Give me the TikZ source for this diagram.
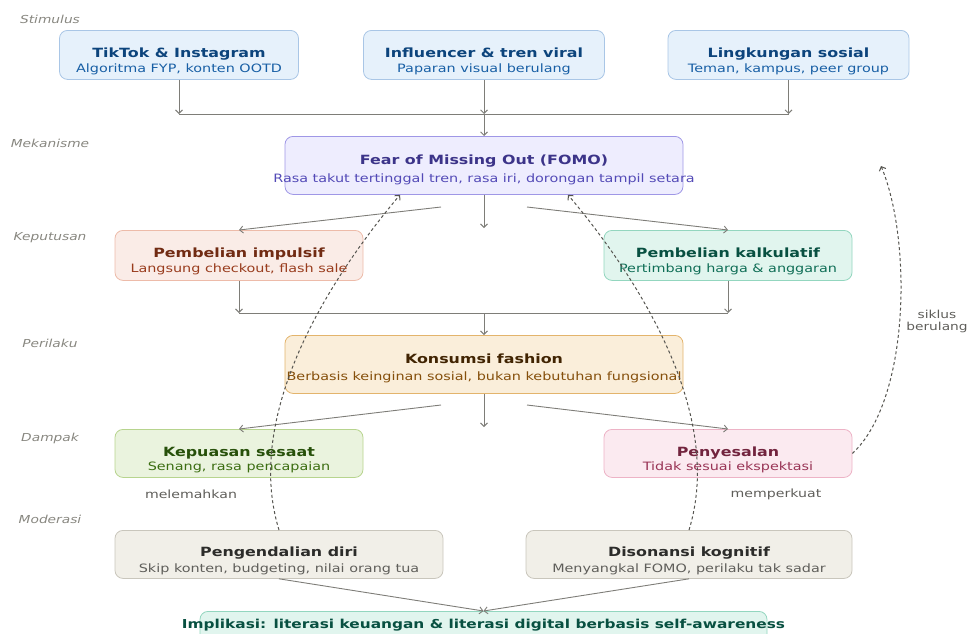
\documentclass[tikz,border=0pt]{standalone}
\usepackage{fontspec}
\setmainfont{DejaVu Sans}[FakeStretch=1.25]
\usetikzlibrary{arrows.meta,calc}

\definecolor{bluebg}{HTML}{E6F1FB}\definecolor{blueln}{HTML}{A9C6E6}
\definecolor{bluetx}{HTML}{0C447C}\definecolor{bluent}{HTML}{185FA5}
\definecolor{purpbg}{HTML}{EEEDFE}\definecolor{purpln}{HTML}{9F97E6}
\definecolor{purptx}{HTML}{3C3489}\definecolor{purpnt}{HTML}{534AB7}
\definecolor{coralbg}{HTML}{FAECE7}\definecolor{coralln}{HTML}{EDBBA9}
\definecolor{coraltx}{HTML}{712B13}\definecolor{coralnt}{HTML}{993C1D}
\definecolor{tealbg}{HTML}{E1F5EE}\definecolor{tealln}{HTML}{93D6BF}
\definecolor{tealtx}{HTML}{085041}\definecolor{tealnt}{HTML}{0F6E56}
\definecolor{ambbg}{HTML}{FAEEDA}\definecolor{ambln}{HTML}{E3B46C}
\definecolor{ambtx}{HTML}{412402}\definecolor{ambnt}{HTML}{854F0B}
\definecolor{grnbg}{HTML}{EAF3DE}\definecolor{grnln}{HTML}{B7D48E}
\definecolor{grntx}{HTML}{27500A}\definecolor{grnnt}{HTML}{3B6D11}
\definecolor{pinkbg}{HTML}{FBEAF0}\definecolor{pinkln}{HTML}{EDB3C6}
\definecolor{pinktx}{HTML}{72243E}\definecolor{pinknt}{HTML}{993556}
\definecolor{graybg}{HTML}{F1EFE8}\definecolor{grayln}{HTML}{C9C6BC}
\definecolor{graytx}{HTML}{2C2C2A}\definecolor{graynt}{HTML}{5F5E5A}
\definecolor{stagegray}{HTML}{888780}
\definecolor{linegray}{HTML}{7E7D78}
\definecolor{dashgray}{HTML}{55544F}

\tikzset{
  box/.style={draw, rounded corners=8pt, line width=0.8pt, anchor=north},
  ttl/.style={anchor=base, inner sep=0pt, font=\fontsize{12.7}{15}\selectfont\bfseries},
  boxnote/.style={anchor=base, inner sep=0pt, font=\fontsize{11.5}{14}\selectfont},
  stage/.style={anchor=base, inner sep=0pt, text=stagegray, font=\fontsize{11}{13}\selectfont\itshape},
  edgetag/.style={inner sep=0pt, text=graynt, font=\fontsize{11.3}{12}\selectfont},
  flow/.style={draw=linegray, line width=0.9pt, -{Straight Barb[length=3.5pt,width=7pt]}},
  busline/.style={draw=linegray, line width=0.9pt},
  cycleline/.style={draw=dashgray, line width=1pt, dash pattern=on 3pt off 2.5pt, -{Straight Barb[length=3.5pt,width=7pt]}},
}

\begin{document}
\begin{tikzpicture}[x=1pt,y=-1pt]
    \useasboundingbox (0,0) rectangle (968,633);
    % stages
    \node[stage] (st-stim) at (50,23) {Stimulus};
    \node[stage] (st-mek) at (50,147) {Mekanisme};
    \node[stage] (st-kep) at (50,240) {Keputusan};
    \node[stage] (st-per) at (50,347) {Perilaku};
    \node[stage] (st-dam) at (50,441) {Dampak};
    \node[stage] (st-mod) at (50,523) {Moderasi};

    % stimulus
    \node[box, fill=bluebg, draw=blueln, minimum width=239, minimum height=49] (tiktok) at (179,30) {};
    \node[ttl, text=bluetx] (tiktok-t) at ($(tiktok.north)+(0,27.5)$) {TikTok \& Instagram};
    \node[boxnote, text=bluent] (tiktok-n) at ($(tiktok.north)+(0,42.5)$) {Algoritma FYP, konten OOTD};
    \node[box, fill=bluebg, draw=blueln, minimum width=241, minimum height=49] (influencer) at (484,30) {};
    \node[ttl, text=bluetx] (influencer-t) at ($(influencer.north)+(0,27.5)$) {Influencer \& tren viral};
    \node[boxnote, text=bluent] (influencer-n) at ($(influencer.north)+(0,42.5)$) {Paparan visual berulang};
    \node[box, fill=bluebg, draw=blueln, minimum width=241, minimum height=49] (lingkungan) at (788.5,30) {};
    \node[ttl, text=bluetx] (lingkungan-t) at ($(lingkungan.north)+(0,27.5)$) {Lingkungan sosial};
    \node[boxnote, text=bluent] (lingkungan-n) at ($(lingkungan.north)+(0,42.5)$) {Teman, kampus, peer group};

    % mekanisme
    \node[box, fill=purpbg, draw=purpln, minimum width=398, minimum height=58] (fomo) at (484,136) {};
    \node[ttl, text=purptx] (fomo-t) at ($(fomo.north)+(0,28)$) {Fear of Missing Out (FOMO)};
    \node[boxnote, text=purpnt] (fomo-n) at ($(fomo.north)+(0,46.5)$) {Rasa takut tertinggal tren, rasa iri, dorongan tampil setara};

    % keputusan
    \node[box, fill=coralbg, draw=coralln, minimum width=248, minimum height=50] (impulsif) at (239,230) {};
    \node[ttl, text=coraltx] (impulsif-t) at ($(impulsif.north)+(0,27.5)$) {Pembelian impulsif};
    \node[boxnote, text=coralnt] (impulsif-n) at ($(impulsif.north)+(0,42)$) {Langsung checkout, flash sale};
    \node[box, fill=tealbg, draw=tealln, minimum width=248, minimum height=50] (kalkulatif) at (728,230) {};
    \node[ttl, text=tealtx] (kalkulatif-t) at ($(kalkulatif.north)+(0,27.5)$) {Pembelian kalkulatif};
    \node[boxnote, text=tealnt] (kalkulatif-n) at ($(kalkulatif.north)+(0,42)$) {Pertimbang harga \& anggaran};

    % perilaku
    \node[box, fill=ambbg, draw=ambln, minimum width=398, minimum height=58] (konsumsi) at (484,335) {};
    \node[ttl, text=ambtx] (konsumsi-t) at ($(konsumsi.north)+(0,28)$) {Konsumsi fashion};
    \node[boxnote, text=ambnt] (konsumsi-n) at ($(konsumsi.north)+(0,45.5)$) {Berbasis keinginan sosial, bukan kebutuhan fungsional};

    % dampak
    \node[box, fill=grnbg, draw=grnln, minimum width=248, minimum height=48] (kepuasan) at (239,429) {};
    \node[ttl, text=grntx] (kepuasan-t) at ($(kepuasan.north)+(0,27)$) {Kepuasan sesaat};
    \node[boxnote, text=grnnt] (kepuasan-n) at ($(kepuasan.north)+(0,41.5)$) {Senang, rasa pencapaian};
    \node[box, fill=pinkbg, draw=pinkln, minimum width=248, minimum height=48] (penyesalan) at (728,429) {};
    \node[ttl, text=pinktx] (penyesalan-t) at ($(penyesalan.north)+(0,27)$) {Penyesalan};
    \node[boxnote, text=pinknt] (penyesalan-n) at ($(penyesalan.north)+(0,41.5)$) {Tidak sesuai ekspektasi};

    % moderasi
    \node[box, fill=graybg, draw=grayln, minimum width=328, minimum height=48] (pengendalian) at (279,530) {};
    \node[ttl, text=graytx] (pengendalian-t) at ($(pengendalian.north)+(0,26)$) {Pengendalian diri};
    \node[boxnote, text=graynt] (pengendalian-n) at ($(pengendalian.north)+(0,42)$) {Skip konten, budgeting, nilai orang tua};
    \node[box, fill=graybg, draw=grayln, minimum width=326, minimum height=48] (disonansi) at (689,530) {};
    \node[ttl, text=graytx] (disonansi-t) at ($(disonansi.north)+(0,26)$) {Disonansi kognitif};
    \node[boxnote, text=graynt] (disonansi-n) at ($(disonansi.north)+(0,42)$) {Menyangkal FOMO, perilaku tak sadar};

    % implikasi
    \node[box, fill=tealbg, draw=tealln, minimum width=567, minimum height=40] (implikasi) at (483.5,611) {};
    \node[anchor=base, inner sep=0pt, text=tealtx, font=\fontsize{12.3}{14}\selectfont\bfseries] (implikasi-t) at ($(implikasi.north)+(0,17.5)$) {Implikasi: literasi keuangan \& literasi digital berbasis self-awareness};

    % joints
    \coordinate (bus1-l) at (179,114);
    \coordinate (bus1-m) at (484,114);
    \coordinate (bus1-r) at (788.5,114);
    \coordinate (fomo-stub) at (484,228);
    \coordinate (fomo-l) at (441,207);
    \coordinate (fomo-r) at (527,207);
    \coordinate (bus2-l) at (239,313);
    \coordinate (bus2-m) at (484,313);
    \coordinate (bus2-r) at (728,313);
    \coordinate (konsumsi-stub) at (484,427);
    \coordinate (konsumsi-l) at (441,405);
    \coordinate (konsumsi-r) at (527,405);
    \coordinate (fomo-in-l) at ($(fomo.south)+(-84,0)$);
    \coordinate (fomo-in-r) at ($(fomo.south)+(84,0)$);
    \coordinate (cycle-end) at (881,166);

    % connectors
    \draw[flow] (tiktok) -- (bus1-l);
    \draw[flow] (influencer) -- (bus1-m);
    \draw[flow] (lingkungan) -- (bus1-r);
    \draw[busline] (bus1-l) -- (bus1-r);
    \draw[flow] (bus1-m) -- (fomo);
    \draw[flow] (fomo) -- (fomo-stub);
    \draw[flow] (fomo-l) -- (impulsif.north);
    \draw[flow] (fomo-r) -- (kalkulatif.north);
    \draw[flow] (impulsif) -- (bus2-l);
    \draw[flow] (kalkulatif) -- (bus2-r);
    \draw[busline] (bus2-l) -- (bus2-r);
    \draw[flow] (bus2-m) -- (konsumsi);
    \draw[flow] (konsumsi) -- (konsumsi-stub);
    \draw[flow] (konsumsi-l) -- (kepuasan.north);
    \draw[flow] (konsumsi-r) -- (penyesalan.north);
    \draw[flow] (pengendalian.south) -- (implikasi.north);
    \draw[flow] (disonansi.south) -- (implikasi.north);

    % feedback
    \draw[cycleline] (pengendalian.north) .. controls (245,420) and (320,290) .. (fomo-in-l);
    \draw[cycleline] (disonansi.north) .. controls (723,420) and (648,290) .. (fomo-in-r);
    \draw[cycleline] (penyesalan.east) .. controls (910,400) and (912,240) .. (cycle-end);
    \node[edgetag] (lbl-melemah) at (191,494) {melemahkan};
    \node[edgetag] (lbl-perkuat) at (776,494) {memperkuat};
    \node[edgetag, align=center, font=\fontsize{11}{12}\selectfont] (lbl-siklus) at (937,321) {siklus\\berulang};
\end{tikzpicture}
\end{document}
